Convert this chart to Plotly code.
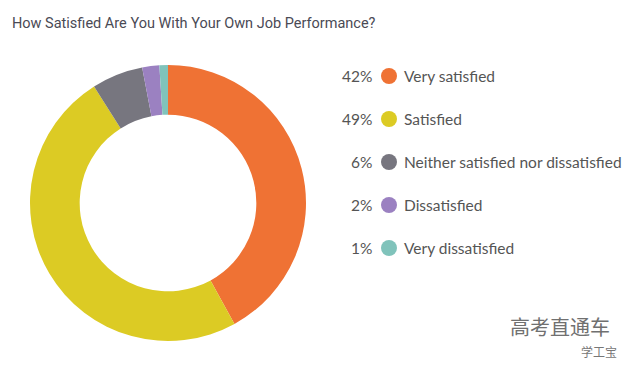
import plotly.graph_objects as go

categories = ["Very satisfied", "Satisfied", "Neither satisfied nor dissatisfied", "Dissatisfied", "Very dissatisfied"]
values = [42, 49, 6, 2, 1]
pct_labels = ["42%", "49%", "6%", "2%", "1%"]
colors = ["#EF7234", "#DCCB24", "#77767F", "#9B81C1", "#80C3BB"]

W, H = 640, 370
fig = go.Figure()

fig.add_trace(go.Pie(
    labels=categories, values=values, sort=False, direction="clockwise", rotation=0,
    hole=0.64, marker=dict(colors=colors, line=dict(width=0)),
    textinfo="none", hoverinfo="label+percent", showlegend=False,
    domain=dict(x=[30 / W, 306 / W], y=[1 - 341 / H, 1 - 65 / H]),
))

# legend rows (pixel layout)
row_y = [76 + 43 * i for i in range(len(categories))]
fig.add_trace(go.Scatter(
    x=[389] * len(categories), y=row_y, mode="markers",
    marker=dict(size=16, color=colors, line=dict(width=0)),
    hoverinfo="skip", showlegend=False, xaxis="x", yaxis="y",
))

annotations = []
for i, (p, c) in enumerate(zip(pct_labels, categories)):
    annotations.append(dict(x=374 / W, y=1 - row_y[i] / H, xref="paper", yref="paper",
                            text=p, showarrow=False, xanchor="right", yanchor="middle",
                            font=dict(family="Lato", size=15.5, color="#555555")))
    annotations.append(dict(x=402 / W, y=1 - row_y[i] / H, xref="paper", yref="paper",
                            text=c, showarrow=False, xanchor="left", yanchor="middle",
                            font=dict(family="Lato", size=15.5, color="#555555")))

annotations.append(dict(x=10 / W, y=1 - 23 / H, xref="paper", yref="paper",
                        text="How Satisfied Are You With Your Own Job Performance?",
                        showarrow=False, xanchor="left", yanchor="middle",
                        font=dict(family="Roboto", size=14.5, color="#4A4A55")))
annotations.append(dict(x=612 / W, y=1 - 326 / H, xref="paper", yref="paper",
                        text="高考直通车", showarrow=False, xanchor="right", yanchor="middle",
                        font=dict(family="Noto Sans CJK SC", size=20, color="#707070")))
annotations.append(dict(x=619 / W, y=1 - 351 / H, xref="paper", yref="paper",
                        text="学工宝", showarrow=False, xanchor="right", yanchor="middle",
                        font=dict(family="Noto Sans CJK SC", size=12, color="#777777")))

fig.update_layout(
    width=W, height=H, margin=dict(l=0, r=0, t=0, b=0),
    paper_bgcolor="white", plot_bgcolor="white",
    xaxis=dict(range=[0, W], visible=False, domain=[0, 1], fixedrange=True),
    yaxis=dict(range=[H, 0], visible=False, domain=[0, 1], fixedrange=True),
    annotations=annotations,
)

fig.write_html("out.html", config=dict(displayModeBar=False),
               post_script="document.body.style.margin='0';document.body.style.overflow='hidden';")
